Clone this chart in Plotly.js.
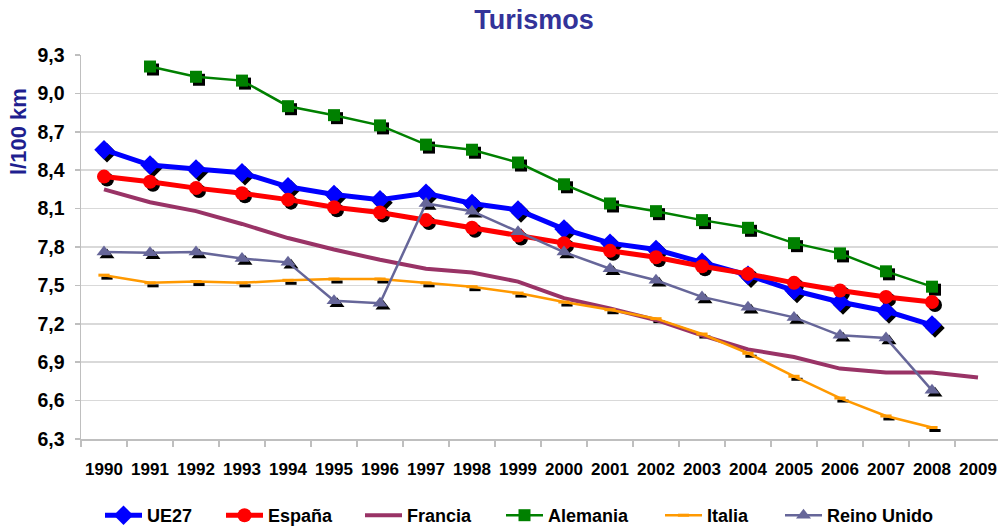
<!DOCTYPE html>
<html>
<head>
<meta charset="utf-8">
<script src="https://cdn.plot.ly/plotly-3.0.1.min.js"></script>
<style>html,body{margin:0;padding:0;background:#fff;}#chart{width:998px;height:527px;}</style>
</head>
<body>
<div id="chart"></div>
<script>
var years = ["1990","1991","1992","1993","1994","1995","1996","1997","1998","1999","2000","2001","2002","2003","2004","2005","2006","2007","2008","2009"];
var ue27    = [8.56, 8.44, 8.41, 8.38, 8.27, 8.21, 8.17, 8.22, 8.14, 8.09, 7.94, 7.83, 7.78, 7.68, 7.58, 7.46, 7.37, 7.30, 7.19, null];
var espana  = [8.35, 8.31, 8.26, 8.22, 8.17, 8.11, 8.07, 8.01, 7.95, 7.89, 7.83, 7.77, 7.72, 7.65, 7.59, 7.52, 7.46, 7.41, 7.37, null];
var francia = [8.25, 8.15, 8.08, 7.98, 7.87, 7.78, 7.70, 7.63, 7.60, 7.53, 7.40, 7.32, 7.23, 7.11, 7.00, 6.94, 6.85, 6.82, 6.82, 6.78];
var alemania= [null, 9.21, 9.13, 9.10, 8.90, 8.83, 8.75, 8.60, 8.56, 8.46, 8.29, 8.14, 8.08, 8.01, 7.95, 7.83, 7.75, 7.61, 7.49, null];
var italia  = [7.58, 7.52, 7.53, 7.52, 7.54, 7.55, 7.55, 7.52, 7.49, 7.44, 7.37, 7.31, 7.24, 7.12, 6.97, 6.79, 6.62, 6.48, 6.39, null];
var reino   = [7.76, 7.755, 7.76, 7.71, 7.68, 7.38, 7.36, 8.14, 8.08, 7.92, 7.76, 7.63, 7.54, 7.41, 7.33, 7.25, 7.11, 7.09, 6.68, null];
var yTicks  = [6.3, 6.6, 6.9, 7.2, 7.5, 7.8, 8.1, 8.4, 8.7, 9.0, 9.3];

var series = [
  {name:"UE27", y:ue27, color:"#0000FF", lw:5, sym:"diamond", size:15, legX:107},
  {name:"España", y:espana, color:"#FF0000", lw:5, sym:"circle", size:14, legX:228},
  {name:"Francia", y:francia, color:"#993366", lw:4, sym:null, size:0, legX:367},
  {name:"Alemania", y:alemania, color:"#008000", lw:2.5, sym:"square", size:12, legX:508},
  {name:"Italia", y:italia, color:"#FF9900", lw:2.5, sym:"line-ew", size:8, legX:667},
  {name:"Reino Unido", y:reino, color:"#666699", lw:2.5, sym:"triangle-up", size:13, legX:787}
];

var traces = [];
// shadows (drawn on shifted base axes, below)
series.forEach(function(s){
  if(!s.sym) return;
  var m = {symbol:s.sym, size:s.size, color:"#000000"};
  if(s.sym==="line-ew"){ m.line={color:"#000000", width:3}; }
  traces.push({x:years, y:s.y, xaxis:"x", yaxis:"y", mode:"markers", marker:m, showlegend:false, hoverinfo:"skip", cliponaxis:false});
});

var lab = "Liberation Sans, Arial, sans-serif";
var layout = {
  width:998, height:527,
  margin:{l:81, r:0, t:55, b:88, pad:0, autoexpand:false},
  paper_bgcolor:"#ffffff", plot_bgcolor:"#ffffff",
  separators:",.",
  showlegend:true,
  title:{text:"Turismos", x:534/998, xanchor:"center", y:1-20/527, yanchor:"middle", font:{family:lab, size:27, color:"#333399", weight:"bold"}},
  annotations:[{text:"l/100 km", xref:"paper", yref:"paper", x:(18-81)/917, y:(439-132)/384, xanchor:"center", yanchor:"middle", textangle:-90, showarrow:false, font:{family:lab, size:22, color:"#1f1f8f", weight:"bold"}}]
};

// main series, each with its own legend box
series.forEach(function(s, i){
  var lg = i === 0 ? "legend" : "legend" + (i+1);
  var t = {x:years, y:s.y, name:s.name, xaxis:"x2", yaxis:"y2", legend:lg, line:{color:s.color, width:s.lw}, connectgaps:false, cliponaxis:false};
  if(s.sym){
    t.mode = "lines+markers";
    t.marker = {symbol:s.sym, size:s.size, color:s.color};
    if(s.sym==="line-ew"){ t.marker.line={color:s.color, width:3}; }
  } else {
    t.mode = "lines";
  }
  traces.push(t);
  layout[lg] = {orientation:"h", xref:"container", yref:"container", x:(s.legX-7)/998, xanchor:"left", y:1-497/527, yanchor:"top",
    font:{family:lab, size:18, color:"#000000", weight:"bold"}, itemwidth:37, bgcolor:"rgba(0,0,0,0)", borderwidth:0};
});

var xr = [-0.5, 19.435];
var pxPerX = 917/(xr[1]-xr[0]);
var yr = [6.3, 9.3];
var pxPerY = 384/(yr[1]-yr[0]);
var sh = 3;

layout.xaxis = {type:"category", categoryorder:"array", categoryarray:years, range:[xr[0]-sh/pxPerX, xr[1]-sh/pxPerX], showgrid:false, showline:false, showticklabels:false, ticks:"", zeroline:false, fixedrange:true};
layout.yaxis = {range:[yr[0]+sh/pxPerY, yr[1]+sh/pxPerY], showgrid:false, showline:false, showticklabels:false, ticks:"", zeroline:false, fixedrange:true};
layout.xaxis2 = {type:"category", categoryorder:"array", categoryarray:years, overlaying:"x", anchor:"y2", side:"bottom", range:xr,
    showgrid:false, showline:true, linecolor:"#bfbfbf", linewidth:1.5, ticks:"outside", tickson:"boundaries", ticklen:6, tickcolor:"#bfbfbf", tickwidth:1.5,
    tickangle:0, tickfont:{family:lab, size:17, color:"#000000", weight:"bold"}, ticklabelstandoff:14, zeroline:false, automargin:false};
layout.yaxis2 = {overlaying:"y", anchor:"x2", side:"left", range:yr, tickmode:"array", tickvals:yTicks, tickformat:".1f",
    showgrid:true, gridcolor:"#d9d9d9", gridwidth:1.5, showline:true, linecolor:"#bfbfbf", linewidth:1.5, ticks:"outside", ticklen:5, tickcolor:"#bfbfbf", tickwidth:1.5,
    tickfont:{family:lab, size:19.5, color:"#000000", weight:"bold"}, ticklabelstandoff:6, zeroline:false, automargin:false};

Plotly.newPlot("chart", traces, layout, {staticPlot:true, displayModeBar:false});
</script>
</body>
</html>
